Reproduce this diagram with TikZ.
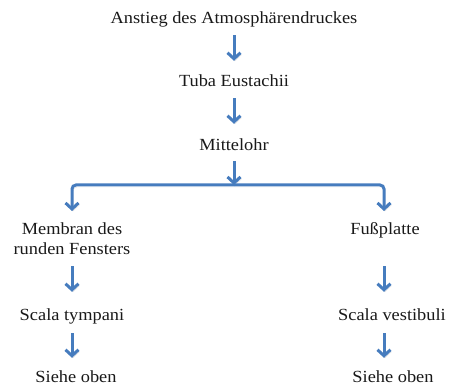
\documentclass[tikz,border=0pt]{standalone}
\usepackage{fontspec}
\setmainfont[FakeStretch=1.08]{Liberation Serif}
\usetikzlibrary{arrows.meta,calc}
\definecolor{flowblue}{RGB}{70,124,190}
\definecolor{shade}{RGB}{205,205,205}
\tikzset{
  lbl/.style={font=\fontsize{17}{20}\selectfont, text=black!90, inner sep=0pt,
    align=center, text height=12pt, text depth=4pt},
  tipstyle/.style={-{Straight Barb[length=6pt,width=13pt,line width=3pt]}},
  flow/.style={draw=flowblue, line width=3pt, rounded corners=4pt, tipstyle},
  gap/.style={shorten <=7pt, shorten >=14pt},
  shadowed/.style={preaction={draw=shade, opacity=0.7, transform canvas={shift={(1pt,-2pt)}}}}
}
\begin{document}
\begin{tikzpicture}[x=1pt,y=-1pt]
\useasboundingbox (0,0) rectangle (450,385);

% labels (centres sit 4pt above the baselines)
\node[lbl] (anstieg) at (234,20) {Anstieg des Atmosphärendruckes};
\node[lbl] (tuba)    at (234,83) {Tuba Eustachii};
\node[lbl] (mittel)  at (234,146) {Mittelohr};
\node[lbl, anchor=base] (membran) at (72,254) {Membran des\\runden Fensters};
\node[lbl] (fuss)    at (385,230) {Fußplatte};
\node[lbl] (tymp)    at (72,316) {Scala tympani};
\node[lbl] (vest)    at (392,316) {Scala vestibuli};
\node[lbl] (obenL)   at (76,378) {Siehe oben};
\node[lbl] (obenR)   at (393,378) {Siehe oben};

% branching points
\coordinate (bar)  at (234,185);
\coordinate (barL) at (72,185);
\coordinate (barR) at (384,185);
\coordinate (tipL) at (72,211);
\coordinate (tipR) at (384,211);

% main chain
\draw[flow, gap, shadowed] (anstieg) -- (tuba);
\draw[flow, gap, shadowed] (tuba) -- (mittel);
\draw[flow, shadowed, shorten <=7pt] (mittel.south) -- (bar);
\draw[flow, shadowed] (bar) -- (barL) -- (tipL);
\draw[flow, shadowed] (bar) -- (barR) -- (tipR);

% left branch
\draw[flow, shadowed] ($(membran.south -| tipL)+(0,8)$) -- ($(tymp.north -| tipL)+(0,-16)$);
\draw[flow, shadowed] ($(tymp.south -| tipL)+(0,9)$) -- ($(obenL.north -| tipL)+(0,-12)$);

% right branch
\draw[flow, shadowed] ($(membran.south -| tipR)+(0,8)$) -- ($(vest.north -| tipR)+(0,-16)$);
\draw[flow, shadowed] ($(vest.south -| tipR)+(0,9)$) -- ($(obenR.north -| tipR)+(0,-12)$);
\end{tikzpicture}
\end{document}
